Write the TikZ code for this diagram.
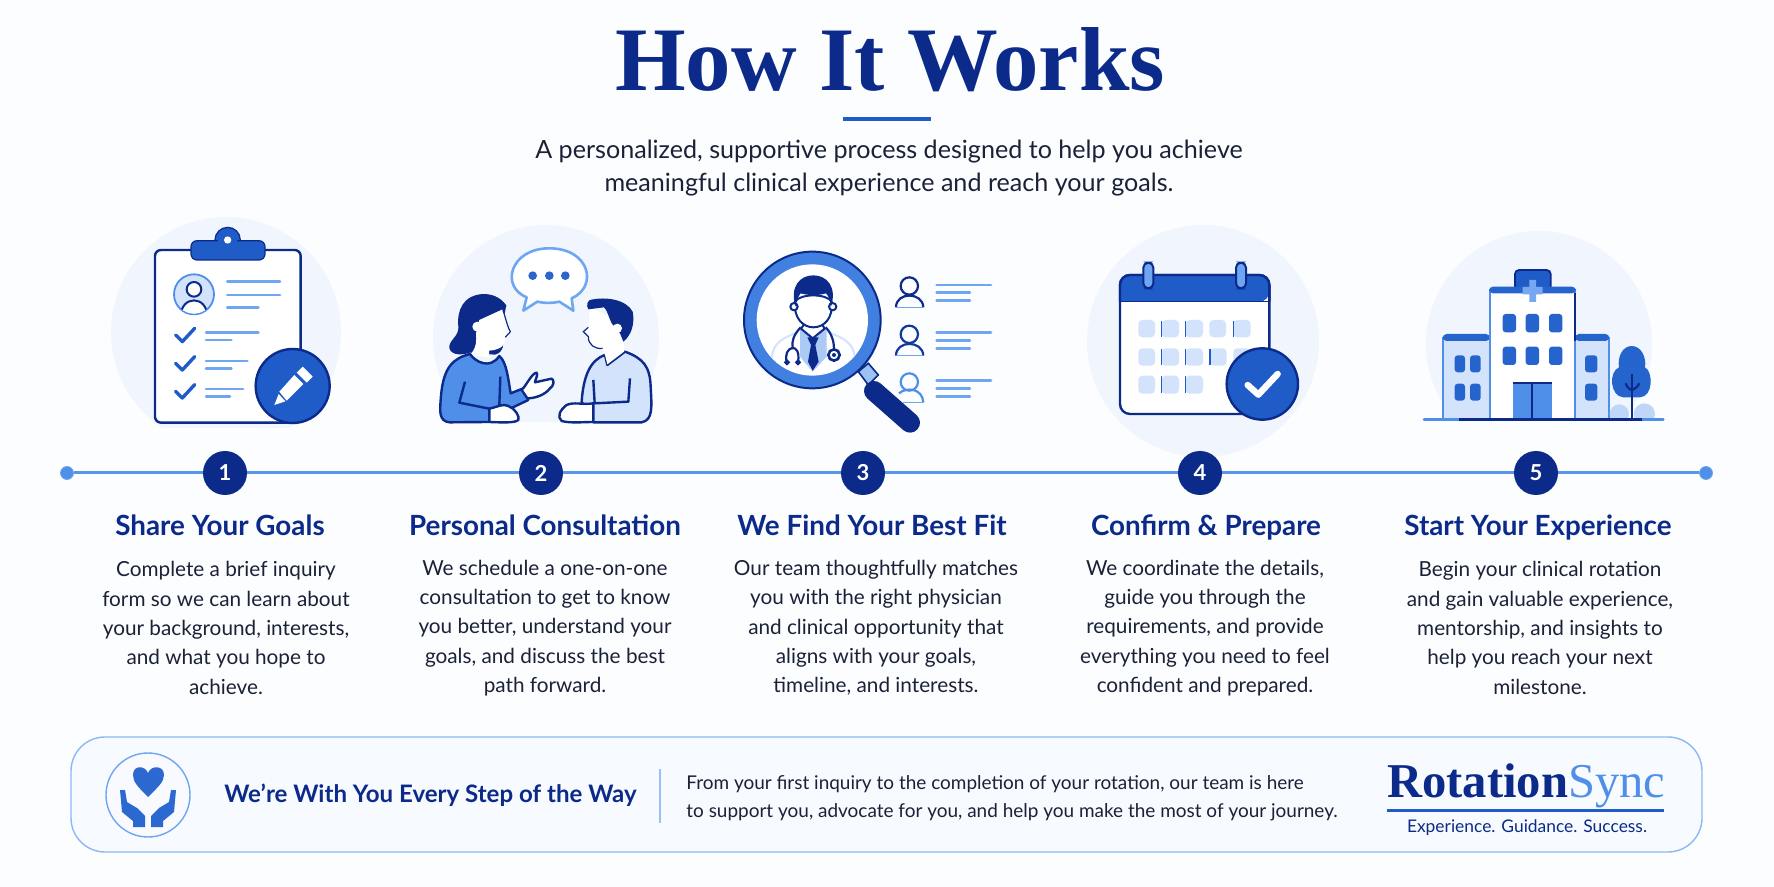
\documentclass[tikz,border=0pt]{standalone}
\usepackage{fontspec}
\setmainfont{Lato}
\newfontfamily\serifface{Liberation Serif}
\usepackage{tikz}

\definecolor{navy}{HTML}{0B2A8A}
\definecolor{midblue}{HTML}{1F5CC8}
\definecolor{softblue}{HTML}{4F8FEA}
\definecolor{lineblue}{HTML}{6FA6F2}
\definecolor{paleblue}{HTML}{D3E3FB}
\definecolor{haloblue}{HTML}{F1F6FE}
\definecolor{inkdark}{HTML}{1B2238}
\definecolor{pagewhite}{HTML}{FCFDFF}

\tikzset{
  stepdot/.style={circle, fill=navy, text=white, minimum size=22pt, inner sep=0, font=\bfseries\fontsize{11}{13}\selectfont},
  enddot/.style={circle, fill=softblue, draw=lineblue, minimum size=6.5pt, inner sep=0},
  steptitle/.style={text=navy, inner sep=0, anchor=base, font=\bfseries\fontsize{13.9}{16}\selectfont},
  stepbody/.style={text=inkdark, inner sep=0, align=center, font=\fontsize{10.37}{14.65}\selectfont},
  halo/.style={fill=haloblue},
  textline/.style={draw=lineblue, line width=1.4pt, line cap=round},
  outline/.style={draw=navy, line width=1.2pt, line join=round},
}

\begin{document}
\begin{tikzpicture}[x=0.5pt, y=-0.5pt]
\fill[pagewhite] (0,0) rectangle (1774,887);
\useasboundingbox (0,0) rectangle (1774,887);

% heading
\node[text=navy, inner sep=0, font=\serifface\bfseries\fontsize{45.4}{50}\selectfont] (main title) at (890,60) {How It Works};
\fill[midblue] (843,117) rectangle (931,121);
\node[text=inkdark, inner sep=0, align=center, font=\fontsize{12.56}{16.6}\selectfont] (subtitle) at (889,168) {A personalized, supportive process designed to help you achieve\\
meaningful clinical experience and reach your goals.};

% halos
\begin{scope}
\clip (100,200) rectangle (360,428);
\fill[halo] (226,332) circle (115);
\end{scope}
\begin{scope}
\clip (400,200) rectangle (700,422);
\fill[halo] (546,338) circle (113);
\end{scope}
\fill[halo] (1203,341) circle (116);
\begin{scope}
\clip (1400,200) rectangle (1680,419);
\fill[halo] (1539,344) circle (113);
\end{scope}

% clipboard
\begin{scope}[shift={(90,200)}, scale=1/3]
\draw[outline, fill=white, rounded corners=3pt] (195,150) rectangle (632,668);
\fill[midblue, draw=navy, line width=0.6pt] (413,120) circle (38);
\fill[midblue, draw=navy, line width=0.6pt, rounded corners=3pt] (303,122) rectangle (525,180);
\fill[midblue] (385,110) rectangle (441,135);
\fill[white] (413,120) circle (11);
\draw[fill=paleblue, draw=softblue, line width=0.9pt] (312,283) circle (60);
\begin{scope}
\clip (312,283) circle (58);
\draw[fill=white, draw=navy, line width=1pt] (272,350) .. controls (272,285) and (352,285) .. (352,350);
\end{scope}
\draw[fill=white, draw=navy, line width=1pt] (312,268) circle (22);
\draw[textline] (412,245) -- (570,245);
\draw[textline] (412,285) -- (570,285);
\draw[textline] (412,323) -- (505,323);
\draw[midblue, line width=1.7pt, line cap=round, line join=round] (257,405) -- (277,425) -- (314,385);
\draw[midblue, line width=1.7pt, line cap=round, line join=round] (257,490) -- (277,510) -- (314,470);
\draw[midblue, line width=1.7pt, line cap=round, line join=round] (257,574) -- (277,594) -- (314,554);
\draw[textline] (348,398) -- (505,398);
\draw[textline] (348,420) -- (424,420);
\draw[textline] (348,483) -- (472,483);
\draw[textline] (348,505) -- (424,505);
\draw[textline] (348,567) -- (459,567);
\draw[textline] (348,590) -- (420,590);
\draw[fill=midblue, draw=navy, line width=1.2pt] (608,558) circle (111);
\fill[white] (638,500) -- (668,530) -- (650,548) -- (620,518) -- cycle;
\fill[white] (613,525) -- (640,552) -- (590,602) -- (568,575) -- cycle;
\fill[white] (566,582) -- (586,604) -- (553,615) -- cycle;
\end{scope}

% two people talking
\begin{scope}[shift={(420,220)}, scale=1/3]
\draw[draw=lineblue, line width=1.3pt, fill=white, line join=round] (320,232) .. controls (240,200) and (270,85) .. (388,85) .. controls (510,85) and (535,200) .. (455,235) -- (460,272) -- (418,245) .. controls (395,250) and (375,250) .. (352,245) -- (310,272) -- cycle;
\fill[midblue!80!softblue] (338,167) circle (13) (388,167) circle (13) (436,167) circle (13);
% woman
\fill[navy] (190,222) .. controls (130,225) and (110,270) .. (115,320) .. controls (118,350) and (85,360) .. (88,385) .. controls (95,408) and (130,405) .. (150,398) -- (225,404) .. controls (240,400) and (250,390) .. (250,368) -- (250,300) -- (259,256) .. controls (240,230) and (215,222) .. (190,222) -- cycle;
\fill[white] (178,300) -- (248,268) .. controls (256,290) and (262,320) .. (271,335) .. controls (265,345) and (258,345) .. (256,352) .. controls (260,375) and (240,390) .. (207,392) -- (207,412) -- (150,404) .. controls (170,385) and (170,360) .. (168,340) -- cycle;
\draw[navy, line width=0.6pt] (248,268) .. controls (256,290) and (262,320) .. (271,335) .. controls (265,345) and (258,345) .. (256,352);
\fill[white] (172,320) circle (15);
\draw[outline, fill=softblue] (150,402) .. controls (165,425) and (210,450) .. (238,408) .. controls (260,425) and (265,480) .. (272,520) -- (310,505) -- (325,540) -- (262,570) -- (205,606) -- (90,607) .. controls (55,605) and (60,570) .. (62,540) .. controls (68,440) and (100,415) .. (150,402) -- cycle;
\draw[outline] (135,485) -- (118,548) -- (208,566);
\draw[outline] (241,470) -- (238,555);
\draw[outline, fill=white] (305,510) .. controls (320,495) and (335,460) .. (350,458) .. controls (355,465) and (345,480) .. (345,487) -- (395,476) .. controls (405,480) and (400,500) .. (390,505) .. controls (375,525) and (345,535) .. (322,535) -- cycle;
\draw[outline, fill=white] (208,566) .. controls (235,560) and (250,550) .. (265,558) .. controls (285,565) and (300,590) .. (295,600) .. controls (285,610) and (240,607) .. (208,606) -- cycle;
% man
\draw[outline, fill=paleblue] (555,405) -- (562,435) -- (615,395) .. controls (670,415) and (690,440) .. (692,500) .. controls (695,560) and (700,600) .. (665,607) -- (520,607) -- (485,545) .. controls (490,470) and (510,420) .. (555,405) -- cycle;
\fill[white] (510,262) -- (505,322) -- (490,335) -- (505,350) .. controls (505,375) and (525,388) .. (548,385) -- (555,405) -- (562,433) -- (612,395) -- (612,340) -- (570,290) -- cycle;
\draw[navy, line width=0.6pt] (505,322) -- (490,335) -- (505,350) .. controls (505,375) and (525,388) .. (548,385);
\fill[navy] (510,240) .. controls (560,228) and (620,240) .. (638,275) .. controls (645,310) and (635,345) .. (610,365) -- (600,340) -- (575,310) .. controls (565,290) and (562,270) .. (552,262) -- (505,268) .. controls (498,255) and (502,245) .. (510,240) -- cycle;
\fill[white] (592,325) circle (14);
\draw[outline] (520,480) -- (524,550) -- (625,545) -- (630,475);
\draw[outline, fill=white] (520,550) .. controls (490,555) and (460,545) .. (440,555) .. controls (420,570) and (410,590) .. (425,603) .. controls (450,610) and (490,606) .. (520,606) -- cycle;
\end{scope}

% magnifier
\begin{scope}[shift={(730,230)}, scale=1/3]
\draw[draw=navy, fill=paleblue!60!softblue, line width=0.8pt] (385,425) -- (415,400) -- (445,435) -- (415,465) -- cycle;
\draw[navy, line width=10pt, line cap=round] (432,483) -- (540,578);
\draw[fill=softblue!70!midblue, draw=navy, line width=1pt] (247,270) circle (205);
\fill[white] (247,270) circle (167);
\begin{scope}
\clip (247,270) circle (165);
\draw[draw=paleblue, line width=1pt] (125,385) .. controls (130,335) and (160,325) .. (205,305);
\draw[draw=paleblue, line width=1pt] (375,385) .. controls (370,335) and (340,325) .. (292,305);
\fill[paleblue!70!softblue] (210,295) -- (290,295) -- (290,380) -- (248,425) -- (210,380) -- cycle;
\fill[white, draw=navy, line width=1pt] (213,296) -- (248,325) -- (284,296) -- (268,270) -- (232,270) -- cycle;
\fill[navy] (232,322) -- (266,322) -- (256,345) -- (266,395) -- (248,422) -- (234,395) -- (243,345) -- cycle;
\draw[fill=white, draw=navy, line width=1pt] (195,215) .. controls (190,265) and (220,292) .. (250,292) .. controls (282,292) and (310,265) .. (305,215) .. controls (290,190) and (210,190) .. (195,215) -- cycle;
\draw[fill=white, draw=navy, line width=1pt] (192,230) circle (11) (308,230) circle (11);
\fill[navy] (197,230) .. controls (178,170) and (210,136) .. (250,136) .. controls (290,136) and (322,170) .. (303,230) .. controls (300,210) and (296,198) .. (288,190) .. controls (260,198) and (235,196) .. (212,190) .. controls (205,198) and (200,212) .. (197,230) -- cycle;
\draw[navy, line width=1.1pt] (212,292) .. controls (190,315) and (185,335) .. (188,352);
\draw[navy, line width=1.1pt] (171,397) .. controls (155,350) and (215,330) .. (204,397);
\draw[navy, line width=1.1pt, fill=white] (171,397) circle (5) (204,397) circle (5);
\draw[navy, line width=1.1pt] (287,292) .. controls (305,310) and (312,335) .. (312,355);
\draw[navy, line width=1.3pt, fill=white] (312,375) circle (17);
\fill[navy] (312,375) circle (6);
\end{scope}
% candidates
\draw[navy, line width=1.1pt] (538,168) circle (26);
\draw[navy, line width=1.1pt] (498,232) .. controls (498,185) and (578,185) .. (580,232);
\draw[lineblue, line width=0.8pt] (498,232) -- (580,232);
\draw[navy!70!midblue, line width=1.1pt] (538,313) circle (26);
\draw[navy!70!midblue, line width=1.1pt] (498,377) .. controls (498,330) and (578,330) .. (580,377);
\draw[lineblue, line width=0.8pt] (498,377) -- (580,377);
\draw[softblue, line width=1.1pt] (538,456) circle (26);
\draw[softblue, line width=1.1pt] (507,490) .. controls (530,470) and (578,475) .. (580,518);
\draw[lineblue, line width=0.8pt] (520,518) -- (580,518);
\draw[textline] (620,165) -- (783,165);
\draw[textline] (620,188) -- (720,188);
\draw[textline] (620,212) -- (720,212);
\draw[textline] (620,308) -- (783,308);
\draw[textline] (620,331) -- (720,331);
\draw[textline] (620,356) -- (720,356);
\draw[textline] (620,452) -- (783,452);
\draw[textline] (620,476) -- (720,476);
\draw[textline] (620,500) -- (720,500);
\end{scope}

% calendar
\begin{scope}[shift={(1080,220)}, scale=1/3]
\draw[outline, fill=white, rounded corners=5pt] (120,165) rectangle (568,582);
\fill[midblue, rounded corners=5pt] (120,245) -- (120,165) -- (568,165) -- (568,245) [sharp corners] -- cycle;
\draw[navy, line width=1.2pt, rounded corners=5pt] (120,245) -- (120,165) -- (568,165) -- (568,245);
\draw[navy, line width=0.8pt] (120,245) -- (568,245);
\draw[draw=navy, fill=lineblue, line width=1pt, rounded corners=2.5pt] (190,128) rectangle (220,205);
\draw[draw=navy, fill=lineblue, line width=1pt, rounded corners=2.5pt] (468,128) rectangle (498,205);
\fill[paleblue, rounded corners=2pt] (175,300) rectangle ++(50,52) (245,300) rectangle ++(52,52) (317,300) rectangle ++(52,52) (388,300) rectangle ++(50,52) (460,300) rectangle ++(52,52) (175,385) rectangle ++(50,52) (245,385) rectangle ++(52,52) (317,385) rectangle ++(52,52) (390,385) rectangle ++(50,52) (460,385) rectangle ++(52,52) (175,467) rectangle ++(50,54) (245,467) rectangle ++(52,54) (317,467) rectangle ++(52,54);
\draw[midblue, line width=0.7pt] (245,302) -- (245,350) (317,302) -- (317,350) (460,302) -- (460,350) (245,387) -- (245,435) (317,387) -- (317,435) (390,387) -- (390,435) (245,469) -- (245,519) (317,469) -- (317,519);
\draw[fill=midblue, draw=navy, line width=1.2pt] (547,492) circle (107);
\draw[white, line width=3.2pt, line cap=round, line join=round] (503,495) -- (535,524) -- (593,462);
\end{scope}

% hospital
\begin{scope}[shift={(1420,230)}, scale=1/3]
\fill[paleblue] (70,320) rectangle (210,568);
\fill[paleblue] (465,320) rectangle (567,568);
\draw[softblue, line width=0.9pt] (70,320) -- (70,568) (567,320) -- (567,568);
\fill[midblue!85!softblue, rounded corners=2pt] (68,312) rectangle (210,333);
\fill[midblue!85!softblue, rounded corners=2pt] (465,312) rectangle (568,333);
\draw[fill=midblue, draw=navy, line width=0.9pt, rounded corners=2pt] (285,120) rectangle (392,180);
\draw[fill=white, draw=softblue, line width=1pt] (210,180) rectangle (465,568);
\draw[navy, line width=1pt] (465,190) -- (465,332);
\fill[midblue!85!softblue, rounded corners=2pt] (207,170) rectangle (468,190);
\fill[softblue!70!paleblue] (328,150) rectangle (348,216) (308,171) rectangle (368,193);
\fill[midblue!85!softblue, rounded corners=1.5pt] (248,252) rectangle (288,307) (317,252) rectangle (357,307) (387,252) rectangle (427,307) (248,350) rectangle (288,405) (317,350) rectangle (357,405) (387,350) rectangle (427,405) (104,376) rectangle (135,427) (150,376) rectangle (182,427) (104,461) rectangle (135,512) (150,461) rectangle (182,512) (495,376) rectangle (532,427) (495,461) rectangle (532,512);
\fill[softblue] (278,458) rectangle (395,568);
\draw[navy, line width=1.1pt] (278,458) -- (395,458);
\draw[navy, line width=1.1pt] (337,458) -- (337,568);
\begin{scope}
\clip (560,450) rectangle (720,566);
\fill[paleblue!85!softblue] (598,552) circle (29) (673,552) circle (32);
\end{scope}
\fill[midblue!85!softblue] (635,348) .. controls (665,348) and (680,385) .. (675,412) .. controls (700,425) and (700,500) .. (660,502) -- (610,502) .. controls (570,500) and (565,425) .. (597,412) .. controls (592,385) and (605,348) .. (635,348) -- cycle;
\draw[navy, line width=1.1pt] (635,432) -- (635,568);
\draw[navy, line width=1.1pt] (617,460) .. controls (620,472) and (630,478) .. (635,480) .. controls (642,478) and (652,472) .. (658,460);
\draw[softblue, line width=1.3pt, line cap=round] (12,568) -- (730,568);
\draw[navy, line width=1.3pt] (118,568) -- (665,568);
\end{scope}

% timeline
\node[enddot] (line start) at (67,473) {};
\node[enddot] (line end) at (1706,473) {};
\node[stepdot] (step one) at (225,473) {1};
\node[stepdot] (step two) at (541,473) {2};
\node[stepdot] (step three) at (863,473) {3};
\node[stepdot] (step four) at (1200,473) {4};
\node[stepdot] (step five) at (1536,473) {5};
\draw[softblue!70!lineblue, line width=1.5pt] (line start) -- (step one) -- (step two) -- (step three) -- (step four) -- (step five) -- (line end);

% step one
\node[steptitle] (share goals title) at (220,536) {Share Your Goals};
\node[stepbody] (share goals text) at (226,628) {Complete a brief inquiry\\
form so we can learn about\\
your background, interests,\\
and what you hope to\\
achieve.};

% step two
\node[steptitle] (consultation title) at (545,536) {Personal Consultation};
\node[stepbody] (consultation text) at (545,628) {We schedule a one-on-one\\
consultation to get to know\\
you better, understand your\\
goals, and discuss the best\\
path forward.};

% step three
\node[steptitle] (best fit title) at (872,536) {We Find Your Best Fit};
\node[stepbody] (best fit text) at (876,628) {Our team thoughtfully matches\\
you with the right physician\\
and clinical opportunity that\\
aligns with your goals,\\
timeline, and interests.};

% step four
\node[steptitle] (confirm title) at (1206,536) {Confirm \& Prepare};
\node[stepbody] (confirm text) at (1205,628) {We coordinate the details,\\
guide you through the\\
requirements, and provide\\
everything you need to feel\\
confident and prepared.};

% step five
\node[steptitle] (experience title) at (1538,536) {Start Your Experience};
\node[stepbody] (experience text) at (1540,628) {Begin your clinical rotation\\
and gain valuable experience,\\
mentorship, and insights to\\
help you reach your next\\
milestone.};

% bottom panel
\draw[draw=lineblue!80!white, fill=haloblue!55!white, line width=0.7pt, rounded corners=17pt] (71,737) rectangle (1702,852);
\draw[draw=lineblue, fill=white!50!haloblue, line width=0.7pt] (148,795) circle (42);
\fill[midblue!75!softblue] (148,797) .. controls (138,787) and (133,782) .. (133,775) .. controls (133,765) and (145,765) .. (148,773) .. controls (151,765) and (164,765) .. (164,775) .. controls (164,782) and (158,787) .. (148,797) -- cycle;
\fill[midblue!75!softblue] (120,790) -- (125,790) -- (127,802) -- (137,808) -- (145,816) -- (145,827) -- (133,827) -- (133,821) -- (122,812) -- cycle;
\fill[midblue!75!softblue] (176,790) -- (171,790) -- (169,802) -- (159,808) -- (151,816) -- (151,827) -- (163,827) -- (163,821) -- (174,812) -- cycle;
\node[text=navy, inner sep=0, anchor=west, font=\bfseries\fontsize{12.03}{15}\selectfont] (support heading) at (224,795) {We’re With You Every Step of the Way};
\draw[draw=lineblue!70!white, line width=0.6pt] (660,769) -- (660,823);
\node[text=inkdark, inner sep=0, anchor=west, align=left, font=\fontsize{9.48}{14}\selectfont] (support text) at (686,798) {From your first inquiry to the completion of your rotation, our team is here\\
to support you, advocate for you, and help you make the most of your journey.};

% logo
\node[inner sep=0, anchor=base west, font=\serifface\fontsize{24.3}{28}\selectfont] (logo) at (1387,797) {\textcolor{navy}{\bfseries Rotation}\textcolor{softblue}{Sync}};
\fill[midblue] (1387,809) rectangle (1664,812);
\node[text=navy, inner sep=0, font=\fontsize{8.7}{11}\selectfont] (logo tagline) at (1527,828) {Experience. Guidance. Success.};
\end{tikzpicture}
\end{document}
